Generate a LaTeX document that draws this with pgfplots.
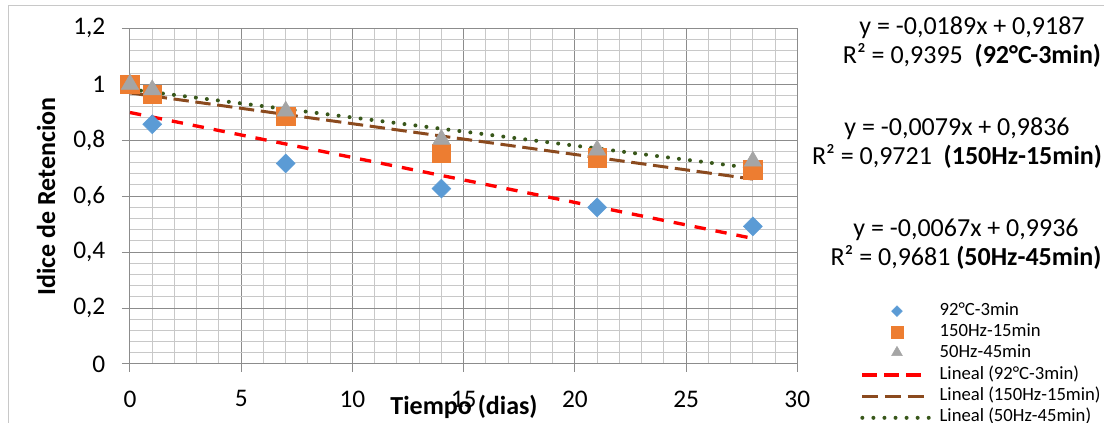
\documentclass[border=0pt]{standalone}
\usepackage{pgfplots}
\pgfplotsset{compat=1.18}
\usepackage{fontspec}
\setmainfont{Carlito}

\definecolor{cblue}{HTML}{5B9BD5}
\definecolor{corange}{HTML}{ED7D31}
\definecolor{cgray}{HTML}{A5A5A5}
\definecolor{tred}{HTML}{FF0000}
\definecolor{tbrown}{HTML}{8B4A1E}
\definecolor{tgreen}{HTML}{38571A}
\definecolor{gmajor}{HTML}{8C8C8C}
\definecolor{gminor}{HTML}{C8C8C8}

% legend samples: a single mark, or a short stretch of line
\pgfplotsset{
  legmark/.style n args={2}{legend image code/.code={%
    \path[draw=none] (0pt,0pt) -- (52pt,0pt);
    \draw[##1, mark size=#1] plot coordinates {(26pt,#2)};}},
  legline/.style n args={2}{legend image code/.code={%
    \draw[##1, #2] (0pt,0pt) -- (#1,0pt);}},
}

\begin{document}
\begin{tikzpicture}
\useasboundingbox (0,0) rectangle (828pt,317.25pt);
% chart frame
\draw[gminor, line width=0.75pt] (6pt,0) -- (6pt,312.75pt) -- (828pt,312.75pt);

\begin{axis}[
  at={(97.5pt,44.25pt)}, anchor=south west,
  scale only axis, width=500.5pt, height=251.75pt,
  xmin=0, xmax=30, ymin=0, ymax=1.2,
  xtick distance=5, ytick distance=0.2,
  minor x tick num=4, minor y tick num=4,
  grid=both,
  major grid style={gmajor, line width=0.75pt},
  minor grid style={gminor, line width=0.75pt},
  axis line style={gmajor, line width=0.75pt},
  tick align=outside, tick pos=left,
  major tick length=6pt, minor tick length=0pt,
  tick style={gmajor, line width=0.75pt},
  ticklabel style={font=\fontsize{19}{22}\selectfont},
  xticklabel style={yshift=-10.5pt},
  /pgf/number format/assume math mode=true,
  /pgf/number format/use comma,
  yticklabel style={/pgf/number format/fixed, /pgf/number format/precision=1, xshift=-9pt},
  legend style={at={(1.094,0.19)}, anchor=north west, draw=none, fill=none,
    inner sep=0pt, font=\fontsize{14}{16}\selectfont,
    nodes={inner sep=0pt, text height=11pt, text depth=5pt},
    /tikz/every odd column/.append style={column sep=6pt}},
  legend cell align=left,
]
% measured points
\addplot[only marks, mark=square*, mark size=5pt,
  mark options={rotate=45, fill=cblue, draw=cblue}, legmark={2.84pt}{0pt}]
  coordinates {(0,1) (1,0.857) (7,0.717) (14,0.627) (21,0.56) (28,0.492)};
\addlegendentry{92°C-3min}
\addplot[only marks, mark=square*, mark size=7pt,
  mark options={fill=corange, draw=corange}, legmark={4.5pt}{0pt}]
  coordinates {(0,1) (1,0.964) (7,0.886) (14,0.753) (21,0.737) (28,0.695)};
\addlegendentry{150Hz-15min}
\addplot[only marks, mark=triangle*, mark size=7.5pt,
  mark options={fill=cgray, draw=cgray}, legmark={4.6pt}{1pt}]
  coordinates {(0,1) (1,0.98) (7,0.904) (14,0.803) (21,0.765) (28,0.725)};
\addlegendentry{50Hz-45min}
% linear trend lines
\addplot[tred, line width=2.5pt, dash pattern=on 8.5pt off 7.5pt,
  legline={44pt}{dash pattern=on 11pt off 5.5pt}]
  coordinates {(0,0.899) (28,0.449)};
\addlegendentry{Lineal (92°C-3min)}
\addplot[tbrown, line width=2.25pt, dash pattern=on 11.5pt off 5pt,
  legline={46pt}{dash pattern=on 12pt off 5pt}]
  coordinates {(0,0.969) (28,0.661)};
\addlegendentry{Lineal (150Hz-15min)}
\addplot[tgreen, line width=3pt, line cap=round, dash pattern=on 0pt off 8.3pt,
  legline={50pt}{}]
  coordinates {(0,0.982) (28,0.700)};
\addlegendentry{Lineal (50Hz-45min)}
\end{axis}

% axis titles
\node[rotate=90, font=\bfseries\fontsize{19.5}{22}\selectfont] at (34.5pt,170pt) {Idice de Retencion};
\node[anchor=base, font=\bfseries\fontsize{19.5}{22}\selectfont] at (348pt,6pt) {Tiempo (dias)};

% regression equations
\node[align=center, font=\fontsize{19.5}{21.75}\selectfont] at (729pt,285.4pt)
  {y = -0,0189x + 0,9187\\R² = 0,9395 \ \textbf{(92°C-3min)}};
\node[align=center, font=\fontsize{19.5}{21.75}\selectfont] at (717.75pt,210pt)
  {y = -0,0079x + 0,9836\\R² = 0,9721 \ \textbf{(150Hz-15min)}};
\node[align=center, font=\fontsize{19.5}{21.75}\selectfont] at (724.5pt,133.9pt)
  {y = -0,0067x + 0,9936\\R² = 0,9681 \textbf{(50Hz-45min)}};
\end{tikzpicture}
\end{document}
